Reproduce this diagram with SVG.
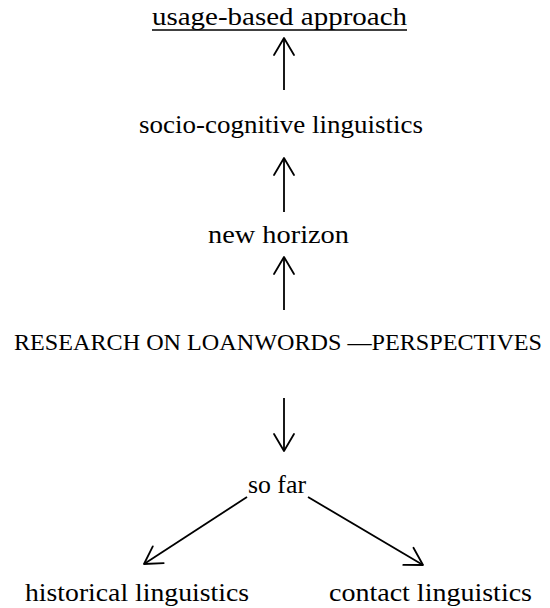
<svg xmlns="http://www.w3.org/2000/svg" width="550" height="608" viewBox="0 0 550 608">
  <style>
    text { font-family: "Liberation Serif", "Times New Roman", serif; font-size: 26px; fill: #000; }
    .conn line { stroke: #000; stroke-width: 1.8; fill: none; }
  </style>
  <defs>
    <marker id="arrow" viewBox="0 0 20 20" refX="18" refY="10" markerWidth="20" markerHeight="20" markerUnits="userSpaceOnUse" orient="auto" overflow="visible">
      <path d="M1,0 L18,10 L1,20" fill="none" stroke="#000" stroke-width="1.8" stroke-linecap="round" stroke-linejoin="round"/>
    </marker>
  </defs>
  <rect width="550" height="608" fill="#fff"/>

  <g id="node-usage">
    <text x="152" y="25" textLength="255" lengthAdjust="spacingAndGlyphs">usage-based approach</text>
    <line x1="152" y1="30" x2="407" y2="30" stroke="#000" stroke-width="1.5"/>
  </g>
  <g id="node-socio">
    <text x="139" y="133" textLength="284" lengthAdjust="spacingAndGlyphs">socio-cognitive linguistics</text>
  </g>
  <g id="node-horizon">
    <text x="208" y="243" textLength="141" lengthAdjust="spacingAndGlyphs">new horizon</text>
  </g>
  <g id="node-research">
    <text x="278" y="350" text-anchor="middle" textLength="528" lengthAdjust="spacingAndGlyphs" style="font-size:24px">RESEARCH ON LOANWORDS —PERSPECTIVES</text>
  </g>
  <g id="node-sofar">
    <text x="248" y="493" textLength="58" lengthAdjust="spacingAndGlyphs">so far</text>
  </g>
  <g id="node-historical">
    <text x="25" y="601" textLength="224" lengthAdjust="spacingAndGlyphs">historical linguistics</text>
  </g>
  <g id="node-contact">
    <text x="329" y="601" textLength="203" lengthAdjust="spacingAndGlyphs">contact linguistics</text>
  </g>

  <g id="connectors" class="conn">
    <line x1="284" y1="90" x2="284" y2="38" marker-end="url(#arrow)"/>
    <line x1="284" y1="212" x2="284" y2="158" marker-end="url(#arrow)"/>
    <line x1="284" y1="310" x2="284" y2="257" marker-end="url(#arrow)"/>
    <line x1="284" y1="398" x2="284" y2="451" marker-end="url(#arrow)"/>
    <line x1="247" y1="497" x2="144" y2="564" marker-end="url(#arrow)"/>
    <line x1="308" y1="497" x2="423" y2="565" marker-end="url(#arrow)"/>
  </g>
</svg>
